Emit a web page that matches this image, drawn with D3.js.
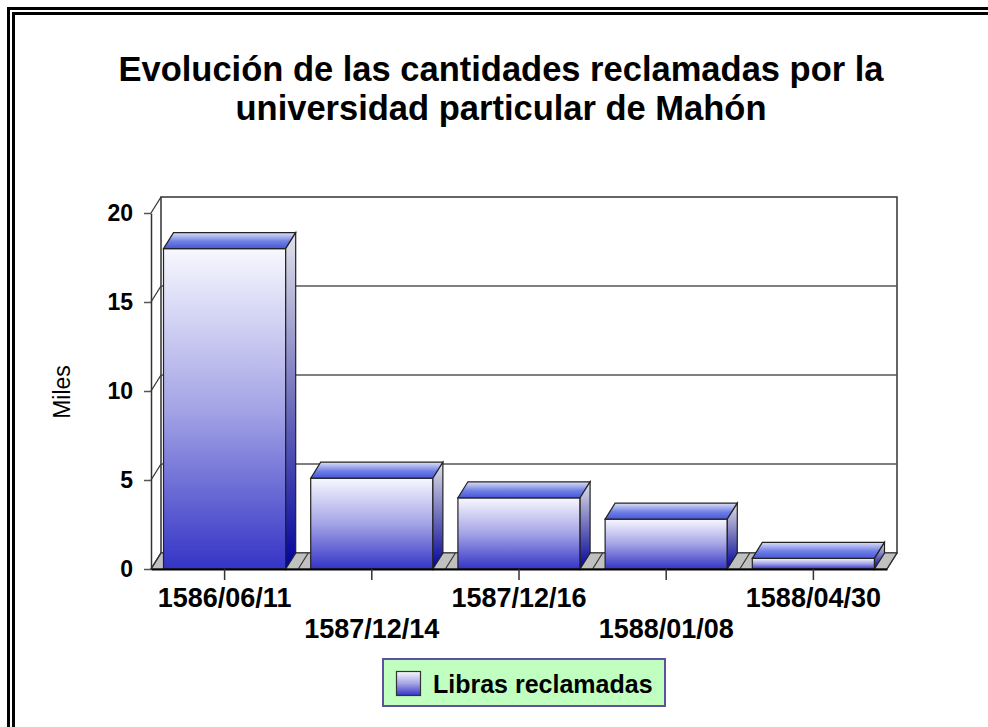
<!DOCTYPE html>
<html>
<head>
<meta charset="utf-8">
<script src="https://cdn.jsdelivr.net/npm/d3@7"></script>
<style>
  html, body { margin: 0; background: #fff; overflow: hidden; }
  svg { display: block; overflow: hidden; font-family: "Liberation Sans", Arial, sans-serif; }
</style>
</head>
<body>
<svg id="chart"></svg>
<script>
var width = 988;
var height = 727;

var categories = ['1586/06/11', '1587/12/14', '1587/12/16', '1588/01/08', '1588/04/30'];
var values = [18, 5.1, 4.0, 2.8, 0.6];
var yTicks = [0, 5, 10, 15, 20];
var titleLines = ['Evolución de las cantidades reclamadas por la', 'universidad particular de Mahón'];
var seriesName = 'Libras reclamadas';

// plot box (front plane) and 3d depth offset
var plotLeft = 151, plotRight = 887, plotBottom = 569, plotTop = 213;
var dx = 10, dy = -16;

var svg = d3.select('#chart')
  .attr('width', width)
  .attr('height', height);

var defs = svg.append('defs');

function gradient(id, stops){
  var g = defs.append('linearGradient')
    .attr('id', id)
    .attr('x1', 0).attr('y1', 0)
    .attr('x2', 0).attr('y2', 1);
  stops.forEach(function(s){
    g.append('stop').attr('offset', s[0]).attr('stop-color', s[1]);
  });
}
gradient('frontGrad', [[0, '#f8f8ff'], [0.5, '#a4a4e6'], [1, '#3434c6']]);
gradient('topGrad', [[0, '#dcdff6'], [0.55, '#7080e4'], [1, '#4656dc']]);
gradient('sideGrad', [[0, '#e2e2ea'], [0.5, '#7070bc'], [1, '#02029c']]);

// page frame (double line), runs off the right and bottom edges
svg.append('rect')
  .attr('x', 8.5).attr('y', 8.5)
  .attr('width', width + 200).attr('height', height + 200)
  .attr('fill', 'none').attr('stroke', '#000').attr('stroke-width', 3);
svg.append('rect')
  .attr('x', 13.5).attr('y', 13.5)
  .attr('width', width + 200).attr('height', height + 200)
  .attr('fill', 'none').attr('stroke', '#000').attr('stroke-width', 3);

// title
svg.append('text')
  .attr('x', 501)
  .attr('text-anchor', 'middle')
  .style('font-weight', 'bold')
  .style('font-size', '34.5px')
  .selectAll('tspan')
  .data(titleLines)
  .enter()
  .append('tspan')
    .attr('x', 501)
    .attr('y', function(d, i){ return 81 + i * 39; })
    .text(function(d){ return d; });

var yScale = d3.scaleLinear()
  .domain([0, 20])
  .range([plotBottom, plotTop]);

var xScale = d3.scaleBand()
  .domain(categories)
  .range([plotLeft, plotRight])
  .paddingInner(0.17)
  .paddingOuter(0.085);

var step = xScale.step();

// back wall
svg.append('rect')
  .attr('x', plotLeft + dx).attr('y', plotTop + dy)
  .attr('width', plotRight - plotLeft).attr('height', plotBottom - plotTop)
  .attr('fill', '#fff')
  .attr('stroke', '#333').attr('stroke-width', 1.5);

// grid lines on back wall
svg.append('g')
  .selectAll('line')
  .data(yTicks.slice(1, -1))
  .enter()
  .append('line')
    .attr('x1', plotLeft + dx).attr('x2', plotRight + dx)
    .attr('y1', function(d){ return yScale(d) + dy; })
    .attr('y2', function(d){ return yScale(d) + dy; })
    .attr('stroke', '#555').attr('stroke-width', 1.5);

// left wall
svg.append('g')
  .selectAll('line')
  .data(yTicks)
  .enter()
  .append('line')
    .attr('x1', plotLeft).attr('x2', plotLeft + dx)
    .attr('y1', function(d){ return yScale(d); })
    .attr('y2', function(d){ return yScale(d) + dy; })
    .attr('stroke', '#333').attr('stroke-width', 1.2);

// floor
var floorPts = [[plotLeft, plotBottom], [plotRight, plotBottom], [plotRight + dx, plotBottom + dy], [plotLeft + dx, plotBottom + dy]];
svg.append('path')
  .attr('d', d3.line()(floorPts) + 'Z')
  .attr('fill', '#c0c0c0')
  .attr('stroke', '#333').attr('stroke-width', 1.2);

var bounds = d3.range(categories.length + 1).map(function(i){ return plotLeft + i * step; });
svg.append('g')
  .selectAll('line')
  .data(bounds)
  .enter()
  .append('line')
    .attr('x1', function(d){ return d; }).attr('x2', function(d){ return d + dx; })
    .attr('y1', plotBottom).attr('y2', plotBottom + dy)
    .attr('stroke', '#333').attr('stroke-width', 1.2);

// y axis
var yAxis = svg.append('g')
  .attr('transform', 'translate(' + plotLeft + ',0)')
  .call(d3.axisLeft(yScale)
    .tickValues(yTicks)
    .tickSize(7)
    .tickSizeOuter(0)
    .tickPadding(11));
yAxis.select('.domain').attr('stroke', '#333').attr('stroke-width', 1.5);
yAxis.selectAll('.tick line').attr('stroke', '#555').attr('stroke-width', 1.5);
yAxis.selectAll('.tick text')
  .attr('fill', '#000')
  .style('font-size', '23px')
  .style('font-weight', 'bold')
  .style('font-family', '"Liberation Sans", Arial, sans-serif');

// bars
var bars = svg.append('g')
  .selectAll('g')
  .data(values)
  .enter()
  .append('g');

bars.append('rect')
  .attr('x', function(d, i){ return xScale(categories[i]); })
  .attr('y', function(d){ return yScale(d); })
  .attr('width', xScale.bandwidth())
  .attr('height', function(d){ return plotBottom - yScale(d); })
  .attr('fill', 'url(#frontGrad)')
  .attr('stroke', '#222').attr('stroke-width', 1.2);

bars.append('path')
  .attr('d', function(d, i){
    var x0 = xScale(categories[i]), x1 = x0 + xScale.bandwidth(), y0 = yScale(d);
    return d3.line()([[x0, y0], [x0 + dx, y0 + dy], [x1 + dx, y0 + dy], [x1, y0]]) + 'Z';
  })
  .attr('fill', 'url(#topGrad)')
  .attr('stroke', '#222').attr('stroke-width', 1.2);

bars.append('path')
  .attr('d', function(d, i){
    var x1 = xScale(categories[i]) + xScale.bandwidth(), y0 = yScale(d);
    return d3.line()([[x1, y0], [x1 + dx, y0 + dy], [x1 + dx, plotBottom + dy], [x1, plotBottom]]) + 'Z';
  })
  .attr('fill', 'url(#sideGrad)')
  .attr('stroke', '#222').attr('stroke-width', 1.2);

// x axis
var xAxis = svg.append('g')
  .attr('transform', 'translate(0,' + plotBottom + ')')
  .call(d3.axisBottom(xScale)
    .tickSize(11)
    .tickSizeOuter(0));
xAxis.select('.domain').attr('stroke', '#000').attr('stroke-width', 2);
xAxis.selectAll('.tick line').attr('stroke', '#333').attr('stroke-width', 1.5);
xAxis.selectAll('.tick text')
  .attr('fill', '#000')
  .attr('y', function(d, i){ return i % 2 ? 69 : 38; })
  .attr('dy', 0)
  .style('font-size', '27px')
  .style('font-weight', 'bold')
  .style('font-family', '"Liberation Sans", Arial, sans-serif');

// y axis label
svg.append('text')
  .attr('transform', 'translate(70,392) rotate(-90)')
  .attr('text-anchor', 'middle')
  .style('font-size', '23px')
  .text('Miles');

// legend
var legend = svg.append('g');
legend.append('rect')
  .attr('x', 383).attr('y', 659)
  .attr('width', 282).attr('height', 47)
  .attr('fill', '#c0ffc0')
  .attr('stroke', '#6050a0').attr('stroke-width', 2);
legend.append('rect')
  .attr('x', 396.5).attr('y', 671.5)
  .attr('width', 24).attr('height', 24)
  .attr('fill', 'url(#frontGrad)')
  .attr('stroke', '#333').attr('stroke-width', 1.2);
legend.append('text')
  .attr('x', 433).attr('y', 693)
  .style('font-size', '25px')
  .style('font-weight', 'bold')
  .text(seriesName);
</script>
</body>
</html>
